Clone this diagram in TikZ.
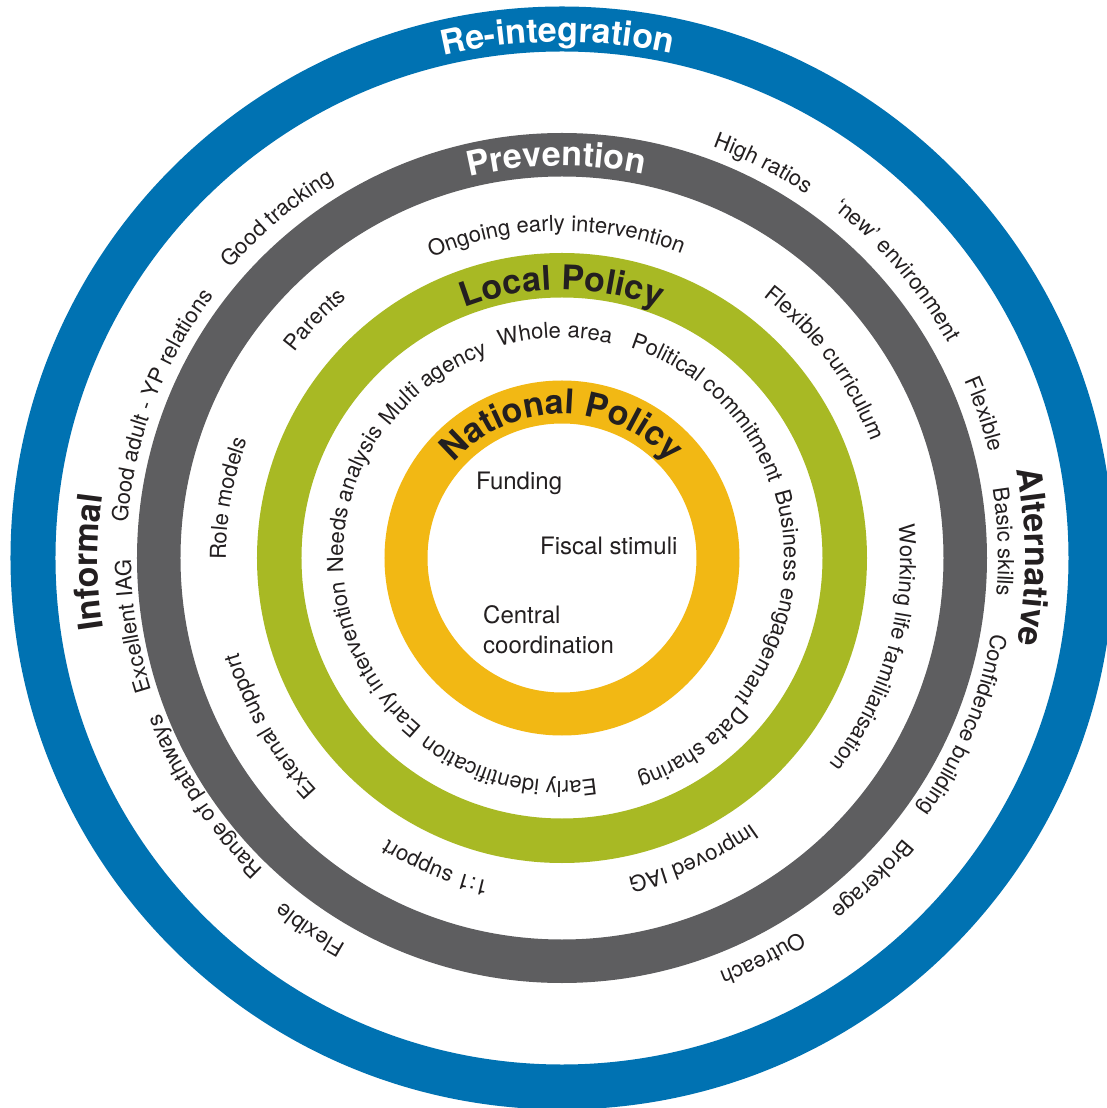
\documentclass[tikz,border=0pt]{standalone}
\usepackage{fontspec}
\setmainfont{TeX Gyre Heros}
\usetikzlibrary{decorations.text}
\definecolor{ringblue}{RGB}{0,114,178}
\definecolor{ringgray}{RGB}{94,94,96}
\definecolor{ringgreen}{RGB}{168,185,36}
\definecolor{ringyellow}{RGB}{242,184,20}
\definecolor{txt}{RGB}{35,31,32}
\newcommand\lab{\fontsize{22}{26}\selectfont\color{txt}}
\newcommand\blab{\bfseries\fontsize{34}{40}\selectfont}
\newcommand\arclabel[4]{\path[decorate,decoration={text along path,text={|#3|#4},text align=center}] (#2+80:#1pt) arc[start angle=#2+80,end angle=#2-80,radius=#1pt];}
\tikzset{ring/.style={even odd rule},inner/.style={font=\fontsize{24}{30}\selectfont,text=txt,inner sep=0pt,align=left}}
\begin{document}
\begin{tikzpicture}
\useasboundingbox (-562pt,-550pt) rectangle (545pt,558pt);
\clip (-562pt,-550pt) rectangle (545pt,558pt);
\fill[white] (-562pt,-550pt) rectangle (545pt,558pt);
% rings
\fill[ringblue,ring] (0,0) circle[radius=551.5pt] circle[radius=506.5pt];
\fill[ringgray,ring] (0,0) circle[radius=425pt] circle[radius=381.5pt];
\fill[ringgreen,ring] (0,0) circle[radius=305pt] circle[radius=260.5pt];
\fill[ringyellow,ring] (0,0) circle[radius=177.5pt] circle[radius=134.5pt];
% band titles
\arclabel{516}{90.5}{\blab\color{white}}{Re-integration}
\arclabel{392}{90.8}{\blab\color{white}}{Prevention}
\arclabel{268}{90}{\blab\color{txt}}{Local Policy}
\arclabel{144}{90}{\blab\color{txt}}{National Policy}
% outer labels
\arclabel{464}{180.5}{\blab\color{txt}}{Informal}
\arclabel{463}{0.1}{\blab\color{txt}}{Alternative}
\arclabel{440}{130}{\lab}{Good tracking}
\arclabel{438}{63}{\lab}{High ratios}
\arclabel{442}{40.6}{\lab}{‘new’ environment}
\arclabel{440}{18.8}{\lab}{Flexible}
\arclabel{436}{2.1}{\lab}{Basic skills}
\arclabel{436}{-22.6}{\lab}{Confidence building}
\arclabel{442}{-46}{\lab}{Brokerage}
\arclabel{443}{-63.4}{\lab}{Outreach}
\arclabel{443}{-124.1}{\lab}{Flexible}
\arclabel{431}{-146.3}{\lab}{Range of pathways}
\arclabel{431}{189}{\lab}{Excellent IAG}
\arclabel{436}{159.2}{\lab}{Good adult - YP relations}
% middle labels
\arclabel{327}{91}{\lab}{Ongoing early intervention}
\arclabel{337}{136}{\lab}{Parents}
\arclabel{330}{36.5}{\lab}{Flexible curriculum}
\arclabel{336}{169.9}{\lab}{Role models}
\arclabel{337}{210}{\lab}{External support}
\arclabel{331}{247.8}{\lab}{1:1 support}
\arclabel{326}{-66.4}{\lab}{Improved IAG}
\arclabel{338}{-16}{\lab}{Working life familiarisation}
% inner labels
\arclabel{217}{126.3}{\lab}{Multi agency}
\arclabel{220}{91.8}{\lab}{Whole area}
\arclabel{221}{45.9}{\lab}{Political commitment}
\arclabel{222}{-11}{\lab}{Business engagemant}
\arclabel{230}{-55.5}{\lab}{Data sharing}
\arclabel{223}{255.8}{\lab}{Early identification}
\arclabel{219}{208.3}{\lab}{Early intervention}
\arclabel{219}{164.2}{\lab}{Needs analysis}
% centre
\node[inner,anchor=base west] (funding) at (-86pt,68pt) {Funding};
\node[inner,anchor=base west] (fiscal) at (-22pt,3pt) {Fiscal stimuli};
\node[inner,anchor=north west] (central) at (-79pt,-47pt) {Central\\coordination};
\end{tikzpicture}
\end{document}
